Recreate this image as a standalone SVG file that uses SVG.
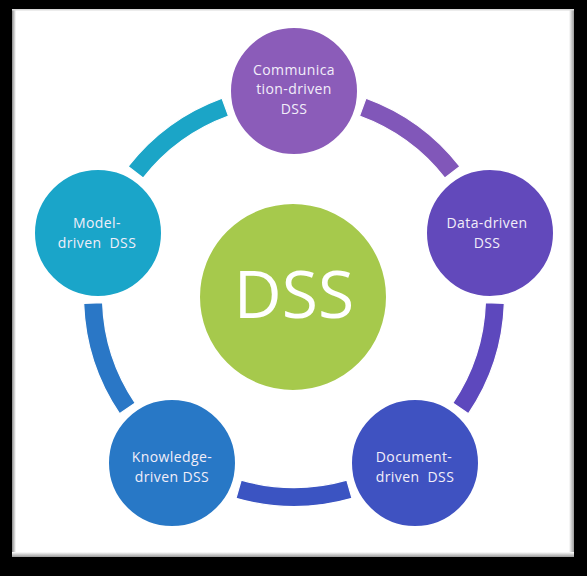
<svg xmlns="http://www.w3.org/2000/svg" width="587" height="576" viewBox="0 0 587 576">
  <defs>
    <style>
      .node { stroke: #ffffff; stroke-width: 2; }
      .arc { stroke: #ffffff; stroke-width: 1.2; stroke-linejoin: miter; }
      .lbl { font-family: "Open Sans", "Liberation Sans", sans-serif; font-size: 14px; letter-spacing: 0.4px; fill: #f2eef9; text-anchor: middle; white-space: pre; }
      .big { font-family: "Open Sans", "Liberation Sans", sans-serif; font-size: 66px; fill: #ffffff; text-anchor: middle; }
    </style>
    <linearGradient id="edgeR" x1="0" y1="0" x2="1" y2="0">
      <stop offset="0" stop-color="#ffffff"/>
      <stop offset="1" stop-color="#9a9a9a"/>
    </linearGradient>
    <linearGradient id="edgeB" x1="0" y1="0" x2="0" y2="1">
      <stop offset="0" stop-color="#ffffff"/>
      <stop offset="1" stop-color="#9a9a9a"/>
    </linearGradient>
    <linearGradient id="edgeL" x1="0" y1="0" x2="1" y2="0">
      <stop offset="0" stop-color="#8a8a8a"/>
      <stop offset="1" stop-color="#ffffff"/>
    </linearGradient>
  </defs>

  <!-- frame -->
  <rect x="0" y="0" width="587" height="576" fill="#000000"/>
  <rect x="12" y="9" width="562" height="548" fill="#ffffff"/>
  <rect x="12" y="9" width="4" height="548" fill="url(#edgeL)"/>
  <rect x="569" y="9" width="5" height="548" fill="url(#edgeR)"/>
  <rect x="12" y="552" width="562" height="5" fill="url(#edgeB)"/>
  <rect x="12" y="9" width="562" height="1.5" fill="#d9d9d9"/>

  <!-- connectors -->
  <g id="connectors">
    <path class="arc" fill="#1ba5c7" d="M128.13,166.40 A210.5,210.5 0 0 1 222.01,98.19 L228.51,116.05 A191.5,191.5 0 0 0 143.10,178.09 Z"/>
    <path class="arc" fill="#8157b9" d="M365.99,98.19 A210.5,210.5 0 0 1 459.87,166.40 L444.90,178.09 A191.5,191.5 0 0 0 359.49,116.05 Z"/>
    <path class="arc" fill="#5d48bd" d="M504.37,303.35 A210.5,210.5 0 0 1 468.50,413.71 L452.75,403.09 A191.5,191.5 0 0 0 485.39,302.68 Z"/>
    <path class="arc" fill="#3b54c2" d="M352.01,498.35 A210.5,210.5 0 0 1 235.99,498.35 L241.22,480.09 A191.5,191.5 0 0 0 346.78,480.09 Z"/>
    <path class="arc" fill="#2a77c6" d="M119.50,413.71 A210.5,210.5 0 0 1 83.63,303.35 L102.61,302.68 A191.5,191.5 0 0 0 135.25,403.09 Z"/>
  </g>

  <!-- center -->
  <g id="dss">
    <circle class="node" cx="293" cy="297" r="94" fill="#a6c94c"/>
    <text class="big" x="294" y="318">DSS</text>
  </g>

  <g id="communication">
    <circle class="node" cx="294" cy="91" r="64" fill="#8b5cb9"/>
    <text class="lbl" x="294" y="74.5">Communica</text>
    <text class="lbl" x="294" y="94">tion-driven</text>
    <text class="lbl" x="294" y="113.5">DSS</text>
  </g>

  <g id="data">
    <circle class="node" cx="490" cy="233" r="64" fill="#6249bb"/>
    <text class="lbl" x="487" y="228">Data-driven</text>
    <text class="lbl" x="487" y="247.5">DSS</text>
  </g>

  <g id="document">
    <circle class="node" cx="415" cy="463" r="64" fill="#3f52c1"/>
    <text class="lbl" x="414" y="462">Document-</text>
    <text class="lbl" x="415" y="481.5">driven  DSS</text>
  </g>

  <g id="knowledge">
    <circle class="node" cx="172" cy="463" r="64" fill="#2878c6"/>
    <text class="lbl" x="172" y="462">Knowledge-</text>
    <text class="lbl" x="172" y="481.5">driven DSS</text>
  </g>

  <g id="model">
    <circle class="node" cx="98" cy="233" r="64" fill="#1aa5c9"/>
    <text class="lbl" x="97" y="228">Model-</text>
    <text class="lbl" x="97" y="247.5">driven  DSS</text>
  </g>
</svg>
